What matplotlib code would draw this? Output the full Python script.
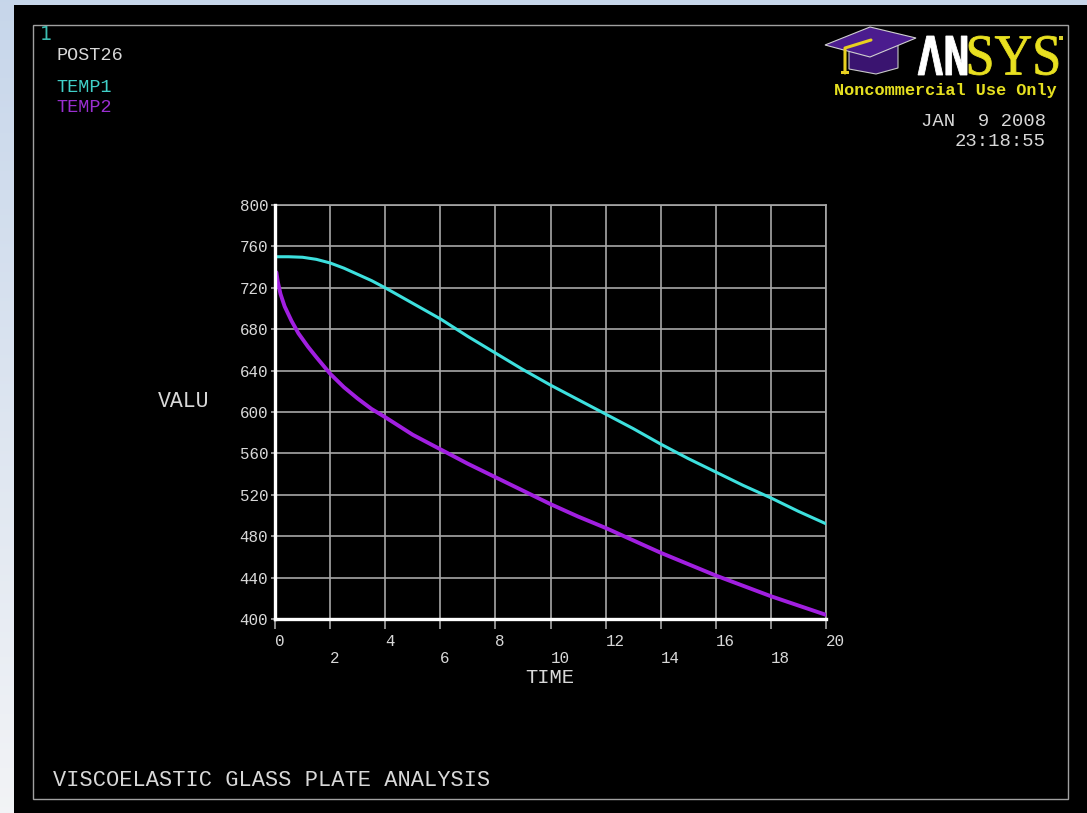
import numpy as np
import matplotlib
matplotlib.use("Agg")
import matplotlib.pyplot as plt
from matplotlib.patches import Rectangle, Polygon, PathPatch
from matplotlib.textpath import TextPath
from matplotlib.font_manager import FontProperties
from matplotlib.transforms import Affine2D

W, H = 1087, 813
MONO = "Liberation Mono"

# TEMP1 / TEMP2 time histories
time1 = [0, 0.5, 1, 1.5, 2, 2.5, 3, 3.5, 4, 5, 6, 7, 8, 9, 10,
         11, 12, 13, 14, 15, 16, 17, 18, 19, 20]
temp1 = [750, 750, 749.5, 747.5, 744, 739, 733, 727, 720, 705, 690, 673, 657, 641, 626,
         612, 598, 584, 569, 555, 542, 529, 517, 504, 492]

time2 = [0.05, 0.1, 0.2, 0.35, 0.6, 0.85, 1.2, 1.5, 2, 2.5, 3, 3.5, 4, 5, 6,
         7, 8, 9, 10, 11, 12, 13, 14, 15, 16, 17, 18, 19, 20]
temp2 = [735, 726, 714, 702, 688, 676, 663, 653, 637, 624, 613, 603, 595, 578, 564,
         550, 537, 524, 511, 499, 488, 476, 464, 453, 442, 432, 422, 413, 404]

xticks = list(range(0, 21, 2))
yticks = list(range(400, 801, 40))

CYAN = "#3de0de"
PURPLE = "#a11fe0"
GRID = "#a8a8a8"
TXT = "#d8d8d8"

fig = plt.figure(figsize=(W / 100, H / 100), dpi=100)

# background: pale blue strip on left/top, black graphics window
bg = fig.add_axes([0, 0, 1, 1], zorder=-2)
grad = np.linspace(0, 1, 256).reshape(-1, 1)
top_c = np.array([0.78, 0.84, 0.92])
bot_c = np.array([0.95, 0.955, 0.965])
img = top_c + (bot_c - top_c) * grad[..., None]
bg.imshow(img, aspect="auto", extent=[0, W, H, 0])
bg.set_xlim(0, W)
bg.set_ylim(H, 0)
bg.add_patch(Rectangle((14, 5), W - 14, H - 5, facecolor="black", edgecolor="none"))
bg.add_patch(Rectangle((33, 25), 1068 - 33, 799 - 25, facecolor="none",
                       edgecolor="#a0a0a0", lw=1))
bg.axis("off")

# header / footer texts
bg.text(40, 34, "1", color="#3cbcb0", fontsize=14, family="DejaVu Sans", va="center")
bg.text(56, 55, "POST26", color=TXT, fontsize=13.3, family=MONO, va="center")
bg.text(56, 87, "TEMP1", color="#40d0c8", fontsize=13.3, family=MONO, va="center")
bg.text(56, 108, "TEMP2", color="#9a2fd0", fontsize=13.3, family=MONO, va="center")
bg.text(158, 401, "VALU", color=TXT, fontsize=15.5, family=MONO, va="center")
bg.text(550, 677, "TIME", color=TXT, fontsize=14.8, family=MONO, va="center", ha="center")
bg.text(53, 780, "VISCOELASTIC GLASS PLATE ANALYSIS", color=TXT, fontsize=15.8,
        family=MONO, va="center")
bg.text(1046, 121, "JAN  9 2008", color=TXT, fontsize=13.6, family=MONO,
        va="center", ha="right")
bg.text(1046, 142, "23:18:55", color=TXT, fontsize=13.6, family=MONO,
        va="center", ha="right")
bg.text(1057, 91, "Noncommercial Use Only", color="#e6e020", fontsize=12.2,
        family=MONO, weight="bold", va="center", ha="right")


def boxed_text(ax, s, box, color, fp):
    # stretch a text outline into a pixel box (x0, y0, x1, y1), y down
    tp = TextPath((0, 0), s, size=100, prop=fp)
    ext = tp.get_extents()
    x0, y0, x1, y1 = box
    tr = (Affine2D().translate(-ext.x0, -ext.y0)
          .scale((x1 - x0) / ext.width, -(y1 - y0) / ext.height)
          .translate(x0, y1))
    ax.add_patch(PathPatch(tr.transform_path(tp), facecolor=color, edgecolor=color,
                           lw=0.6))


# logo: mortarboard + lettering
bg.add_patch(Polygon([(849, 49), (898, 43), (898, 68), (876, 74), (849, 69)],
                     closed=True, facecolor="#3a1470", edgecolor="#c8c8c8", lw=0.8))
bg.add_patch(Polygon([(825, 45), (870, 27), (916, 38), (870, 57)],
                     closed=True, facecolor="#4b1c8e", edgecolor="#d0d0d0", lw=0.8))
bg.plot([871, 845, 845], [40, 48, 73], color="#e8d020", lw=2.2, solid_capstyle="round")
bg.add_patch(Rectangle((841, 71), 8, 3, facecolor="#e8d020", edgecolor="none"))
boxed_text(bg, "\u039bN", (918, 36, 967, 75), "white",
           FontProperties(family="DejaVu Sans", weight="bold"))
boxed_text(bg, "SYS", (969, 36, 1058, 75), "#e8e020",
           FontProperties(family="Liberation Serif"))
bg.add_patch(Rectangle((1059, 36), 4, 4, facecolor="#d8d030", edgecolor="none"))

# the graph itself
ax = fig.add_axes([275 / W, 1 - 619 / H, 551 / W, 414 / H])
ax.set_facecolor("black")
ax.plot(time1, temp1, color=CYAN, lw=2.2, solid_joinstyle="round", zorder=3)
ax.plot(time2, temp2, color=PURPLE, lw=2.8, solid_joinstyle="round",
        solid_capstyle="round", zorder=3)
ax.set_xlim(0, 20)
ax.set_ylim(400, 800)
ax.set_xticks(xticks)
ax.set_xticklabels([str(v) if i % 2 == 0 else "\n" + str(v) for i, v in enumerate(xticks)],
                   family=MONO, fontsize=11.4, color=TXT, ha="left", va="top")
ax.set_yticks(yticks)
ax.set_yticklabels([str(v) for v in yticks], family=MONO, fontsize=11.4, color=TXT,
                   va="center_baseline")
ax.tick_params(axis="x", direction="out", length=7.5, width=1.2, color=GRID, pad=3)
ax.tick_params(axis="y", direction="out", length=3, width=1.2, color=GRID, pad=2)
ax.grid(True, color=GRID, lw=1.2)
ax.set_axisbelow(True)
for side in ("top", "right"):
    ax.spines[side].set_color(GRID)
    ax.spines[side].set_linewidth(1.2)
for side in ("left", "bottom"):
    ax.spines[side].set_color("white")
    ax.spines[side].set_linewidth(2.4)
    ax.spines[side].set_zorder(4)

fig.savefig("out.png", dpi=100, facecolor="black")
